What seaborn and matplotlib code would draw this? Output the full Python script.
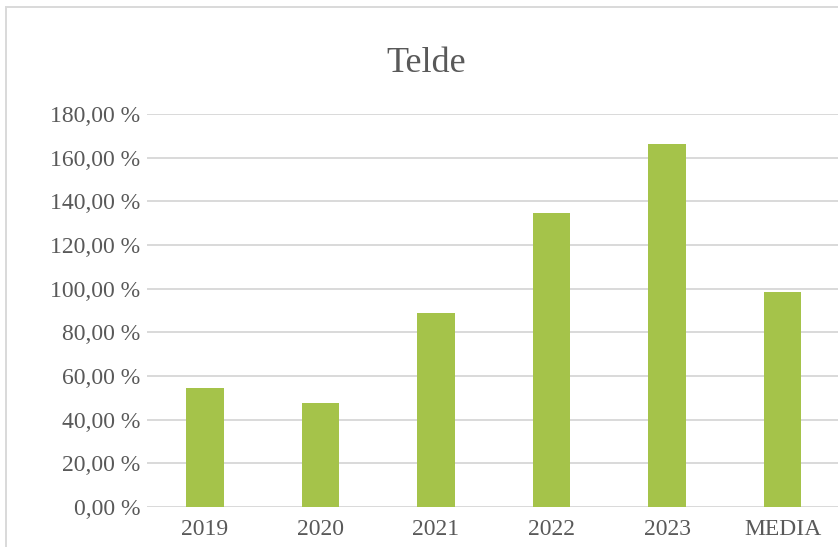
import matplotlib
matplotlib.use("Agg")
import matplotlib.pyplot as plt
import seaborn as sns
import pandas as pd
from matplotlib.patches import Rectangle
from matplotlib.ticker import FuncFormatter

categories = ["2019", "2020", "2021", "2022", "2023", "MEDIA"]
values = [54.5, 47.6, 88.9, 134.7, 166.3, 98.4]
yticks = [0, 20, 40, 60, 80, 100, 120, 140, 160, 180]

sns.set_theme(style="white")
plt.rcParams['font.family'] = ['Liberation Serif', 'DejaVu Serif']

W, H = 838, 547
fig = plt.figure(figsize=(W / 100, H / 100), dpi=100)
left, right = 147.25 / W, 840.25 / W
bottom, top = (H - 507) / H, (H - 114) / H
ax = fig.add_axes([left, bottom, right - left, top - bottom])

df = pd.DataFrame({"cat": categories, "val": values})
sns.barplot(data=df, x="cat", y="val", ax=ax, color="#A5C34A", width=0.323,
            saturation=1, zorder=3, linewidth=0, edgecolor="none")

ax.set_ylim(0, 180)
ax.set_yticks(yticks)
ax.yaxis.set_major_formatter(FuncFormatter(lambda v, p: f"{v:.2f}".replace(".", ",") + " %"))
ax.set_xlim(-0.5, len(categories) - 0.5)
ax.grid(axis="y", color="#D9D9D9", linewidth=1.4, zorder=0)
ax.grid(axis="x", visible=False)
for s in ax.spines.values():
    s.set_visible(False)
ax.set_xlabel("")
ax.set_ylabel("")
ax.tick_params(axis="y", length=0, pad=5, labelsize=17, labelcolor="#595959")
ax.tick_params(axis="x", length=0, pad=8.5, labelsize=17, labelcolor="#595959")

fig.text(426 / W, 1 - 64 / H, "Telde", ha="center", va="center",
         fontsize=26, color="#595959")

fig.patches.append(Rectangle((6 / W, -0.1), 2, 1 - 7 / H + 0.1,
                             transform=fig.transFigure, fill=False,
                             edgecolor="#D9D9D9", linewidth=1.4))

fig.savefig("out.png", dpi=100)
